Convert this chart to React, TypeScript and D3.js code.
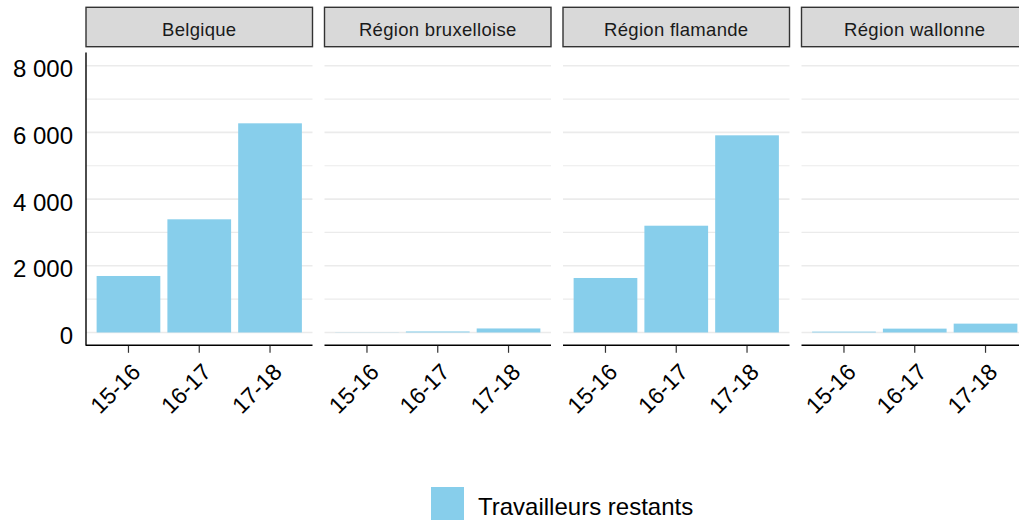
import React from "react";
import * as d3 from "d3";

const regions = ["Belgique", "Région bruxelloise", "Région flamande", "Région wallonne"];
const years = ["15-16", "16-17", "17-18"];
const belgique = [1694, 3394, 6273];
const bruxelles = [5, 30, 120];
const flamande = [1634, 3202, 5913];
const wallonne = [25, 115, 265];
const seriesByRegion = [belgique, bruxelles, flamande, wallonne];
const yTicks = [0, 2000, 4000, 6000, 8000];
const yMinor = [1000, 3000, 5000, 7000];
const legendLabel = "Travailleurs restants";

const W = 1019;
const H = 525;
const FONT = "'Liberation Sans', Arial, Helvetica, sans-serif";
const BAR = "#87CEEB";

export default function App() {
  const panelLeft0 = 86;
  const panelW = 226.5;
  const panelGap = 12;
  const panelTop = 52.4;
  const panelBottom = 345.8;
  const stripTop = 7.3;
  const stripBottom = 46.7;

  const y = d3.scaleLinear().domain([-400, 8400]).range([panelBottom, panelTop]);
  const fmt = (v: number) => d3.format(",")(v).replace(/,/g, " ");

  return (
    <svg
      width={W}
      height={H}
      style={{ position: "absolute", left: 0, top: 0, background: "#fff" }}
      fontFamily={FONT}
    >
      {regions.map((r, i) => {
        const x0 = panelLeft0 + i * (panelW + panelGap);
        const x = d3
          .scaleBand()
          .domain(years)
          .range([x0, x0 + panelW])
          .paddingInner(0.1)
          .paddingOuter(0.15);
        const vals = seriesByRegion[i];
        return (
          <g key={r}>
            <rect
              x={x0}
              y={stripTop}
              width={panelW}
              height={stripBottom - stripTop}
              fill="#d9d9d9"
              stroke="#333333"
              strokeWidth={1.4}
            />
            <text
              x={x0 + panelW / 2}
              y={36}
              textAnchor="middle"
              fontSize={18.5}
              fill="#1a1a1a"
              letterSpacing={0.3}
            >
              {r}
            </text>
            {yMinor.map((t) => (
              <line key={"m" + t} x1={x0} x2={x0 + panelW} y1={y(t)} y2={y(t)} stroke="#ebebeb" strokeWidth={1.2} />
            ))}
            {yTicks.map((t) => (
              <line key={"g" + t} x1={x0} x2={x0 + panelW} y1={y(t)} y2={y(t)} stroke="#ebebeb" strokeWidth={1.6} />
            ))}
            {vals.map((v, j) => (
              <rect
                key={years[j]}
                x={x(years[j])!}
                width={x.bandwidth()}
                y={y(v)}
                height={y(0) - y(v)}
                fill={BAR}
              />
            ))}
            <line x1={x0} x2={x0 + panelW} y1={panelBottom - 0.5} y2={panelBottom - 0.5} stroke="#000" strokeWidth={1.4} />
            {years.map((yr) => {
              const cx = x(yr)! + x.bandwidth() / 2;
              return (
                <g key={yr}>
                  <line x1={cx} x2={cx} y1={panelBottom} y2={panelBottom + 7} stroke="#333" strokeWidth={1.2} />
                  <text
                    transform={`translate(${cx + 1.5},${panelBottom + 16}) rotate(-45)`}
                    textAnchor="end"
                    dy="0.72em"
                    fontSize={23}
                    fill="#000"
                  >
                    {yr}
                  </text>
                </g>
              );
            })}
            {i === 0 && (
              <g>
                <line x1={x0} x2={x0} y1={panelTop} y2={panelBottom} stroke="#000" strokeWidth={1.4} />
                {yTicks.map((t) => (
                  <text key={t} x={73} y={y(t) + 11.5} textAnchor="end" fontSize={24} fill="#000">
                    {fmt(t)}
                  </text>
                ))}
              </g>
            )}
          </g>
        );
      })}
      <rect x={431} y={487} width={33} height={33} fill={BAR} />
      <text x={478} y={515} fontSize={24} fill="#000">
        {legendLabel}
      </text>
    </svg>
  );
}
